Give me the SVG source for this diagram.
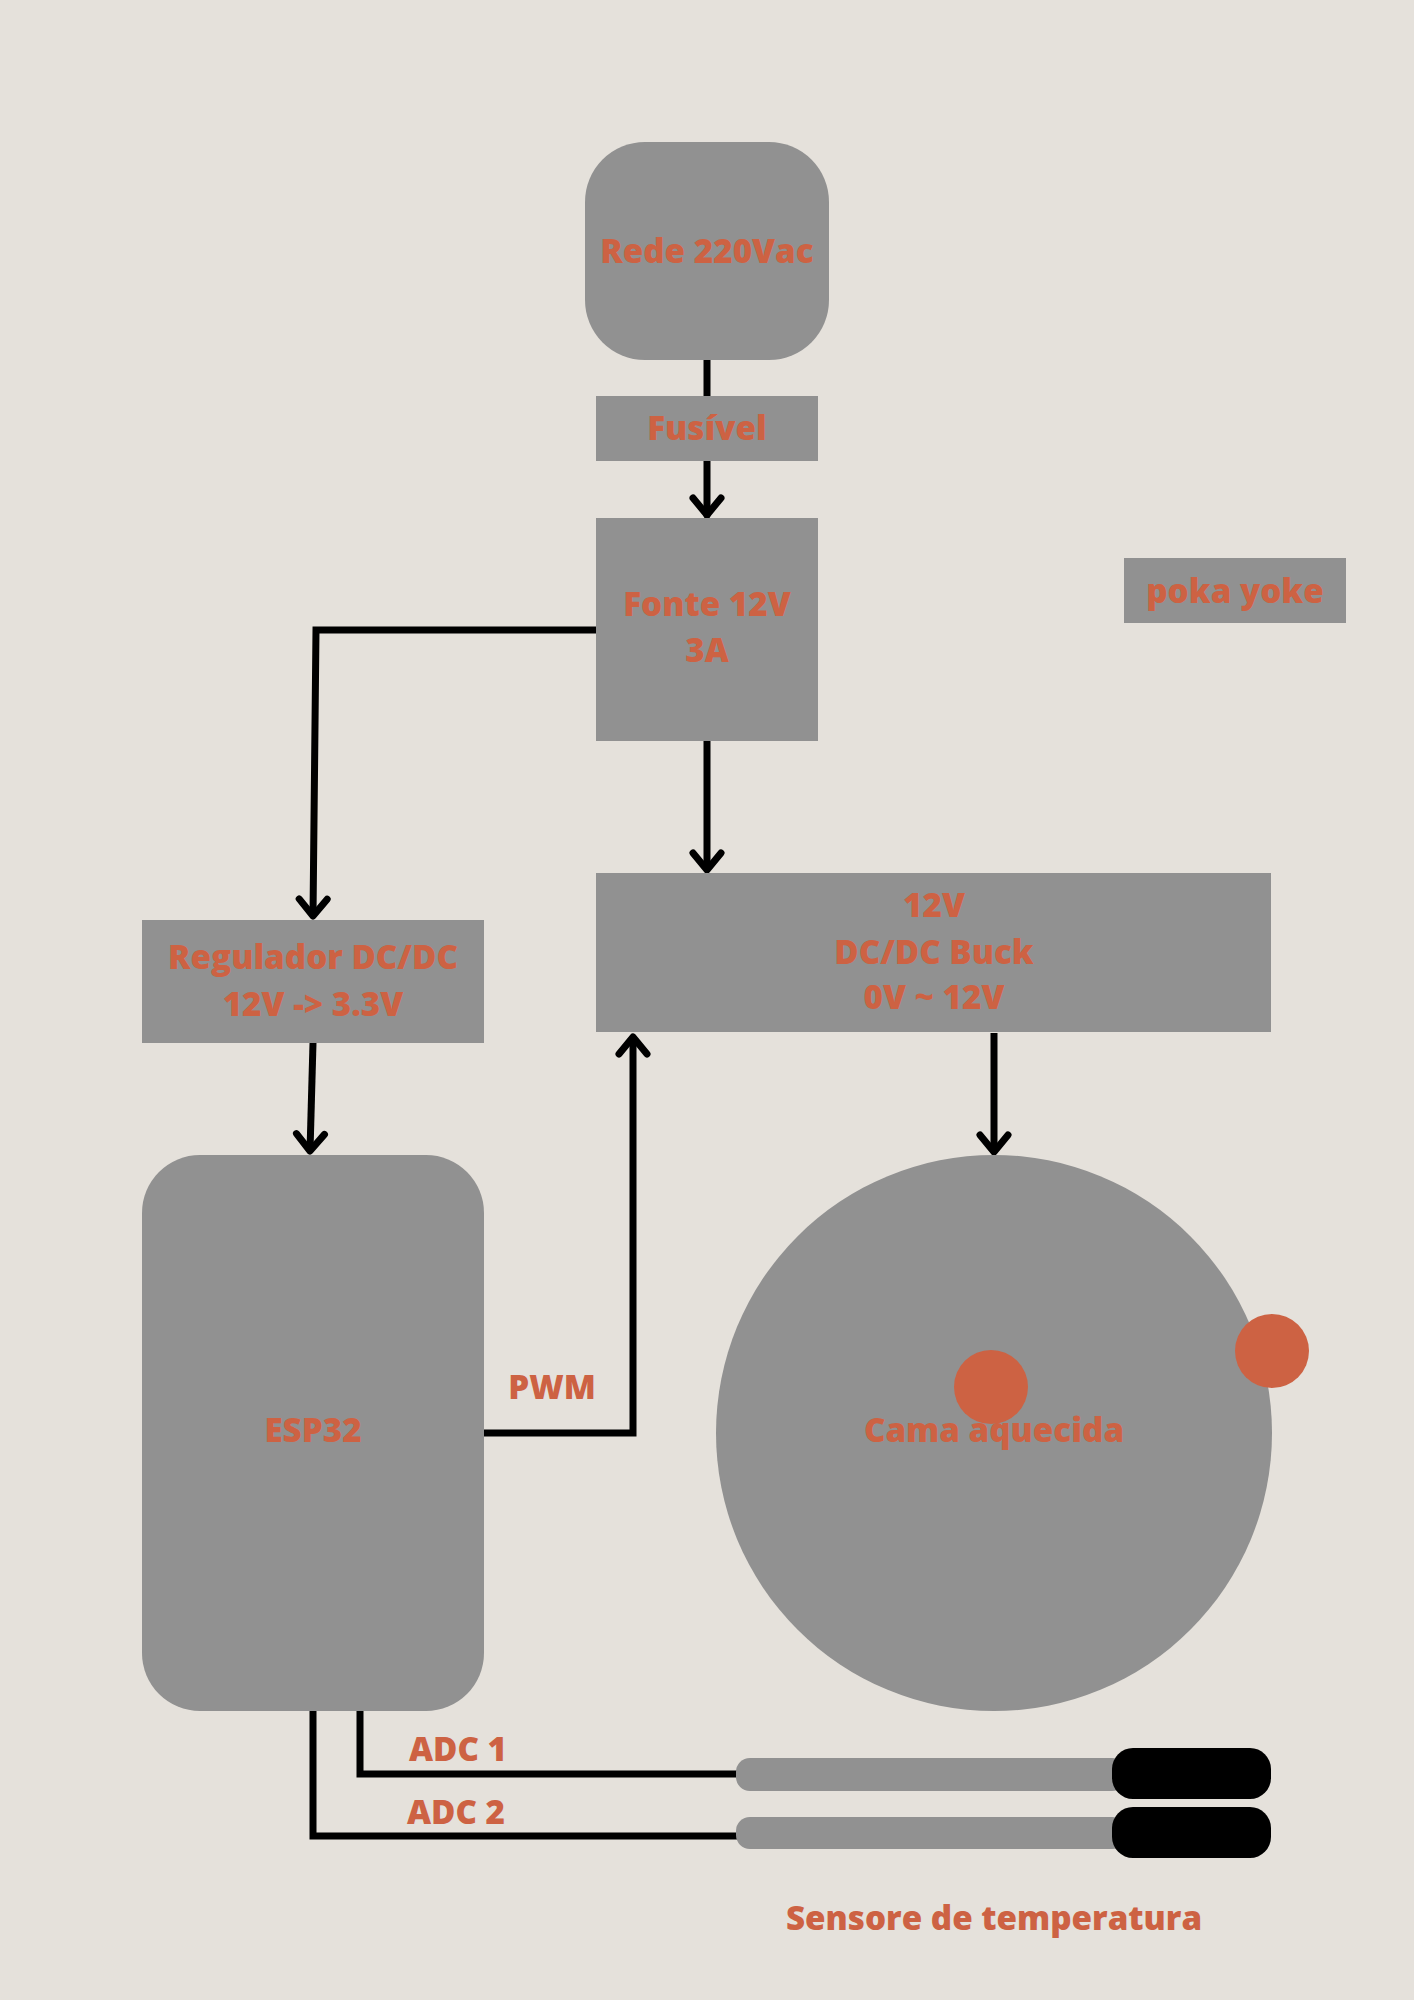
<svg xmlns="http://www.w3.org/2000/svg" width="1414" height="2000" viewBox="0 0 1414 2000">
<style>
.node{fill:#919191}
.lbl{font-family:"Open Sans","Liberation Sans",sans-serif;font-weight:800;font-size:33.2px;fill:#CD6243;text-anchor:middle}
.wire{fill:none;stroke:#000;stroke-width:7}
.arr{fill:none;stroke:#000;stroke-width:7;stroke-linecap:round;stroke-linejoin:round}
</style>
<defs>
<marker id="ah" markerUnits="userSpaceOnUse" markerWidth="50" markerHeight="50" viewBox="-30 -25 50 50" refX="0" refY="0" orient="auto" overflow="visible">
<path d="M-17,-14 L0,0 L-17,14" fill="none" stroke="#000" stroke-width="7" stroke-linecap="round" stroke-linejoin="round"/>
</marker>
</defs>
<rect width="1414" height="2000" fill="#E5E1DB"/>
<g id="connectors">
<path class="wire" d="M707,360 L707,396"/>
<path class="arr" d="M707,461 L707,515" marker-end="url(#ah)"/>
<path class="arr" d="M596,630 L316,630 L313,916" style="stroke-linecap:butt;stroke-linejoin:miter" marker-end="url(#ah)"/>
<path class="arr" d="M707,741 L707,870" style="stroke-linecap:butt" marker-end="url(#ah)"/>
<path class="arr" d="M313,1043 L310,1151" style="stroke-linecap:butt" marker-end="url(#ah)"/>
<path class="arr" d="M994,1033 L994,1152" style="stroke-linecap:butt" marker-end="url(#ah)"/>
<path class="arr" d="M484,1433 L633,1433 L633,1037" style="stroke-linecap:butt;stroke-linejoin:miter" marker-end="url(#ah)"/>
<path class="wire" d="M360,1711 L360,1774 L738,1774"/>
<path class="wire" d="M313,1711 L313,1836 L738,1836"/>
</g>
<g id="rede"><rect class="node" x="585" y="142" width="244" height="218" rx="60"/><text class="lbl" x="707" y="263">Rede 220Vac</text></g>
<g id="fusivel"><rect class="node" x="596" y="396" width="222" height="65"/><text class="lbl" x="707" y="440">Fusível</text></g>
<g id="fonte"><rect class="node" x="596" y="518" width="222" height="223"/><text class="lbl" x="707" y="616">Fonte 12V</text><text class="lbl" x="707" y="662">3A</text></g>
<g id="pokayoke"><rect class="node" x="1124" y="558" width="222" height="65"/><text class="lbl" x="1235" y="603">poka yoke</text></g>
<g id="buck"><rect class="node" x="596" y="873" width="675" height="159"/><text class="lbl" x="934" y="917">12V</text><text class="lbl" x="934" y="964">DC/DC Buck</text><text class="lbl" x="934" y="1009">0V ~ 12V</text></g>
<g id="regulador"><rect class="node" x="142" y="920" width="342" height="123"/><text class="lbl" x="313" y="969">Regulador DC/DC</text><text class="lbl" x="313" y="1016">12V -&gt; 3.3V</text></g>
<g id="esp32"><rect class="node" x="142" y="1155" width="342" height="556" rx="58"/><text class="lbl" x="313" y="1442">ESP32</text></g>
<g id="pwm"><text class="lbl" x="552" y="1399">PWM</text></g>
<g id="cama"><circle class="node" cx="994" cy="1433" r="278"/><circle cx="991" cy="1387" r="37" fill="#CD6243"/><text class="lbl" x="994" y="1442">Cama aquecida</text><circle cx="1272" cy="1351" r="37" fill="#CD6243"/></g>
<g id="sensor1"><rect class="node" x="736" y="1758" width="390" height="33" rx="14"/><rect x="1112" y="1748" width="159" height="51" rx="21" fill="#000"/></g>
<g id="sensor2"><rect class="node" x="736" y="1817" width="390" height="32" rx="14"/><rect x="1112" y="1807" width="159" height="51" rx="21" fill="#000"/></g>
<g id="labels"><text class="lbl" x="458" y="1761">ADC 1</text><text class="lbl" x="456" y="1824">ADC 2</text><text class="lbl" x="994" y="1930">Sensore de temperatura</text></g>
</svg>
